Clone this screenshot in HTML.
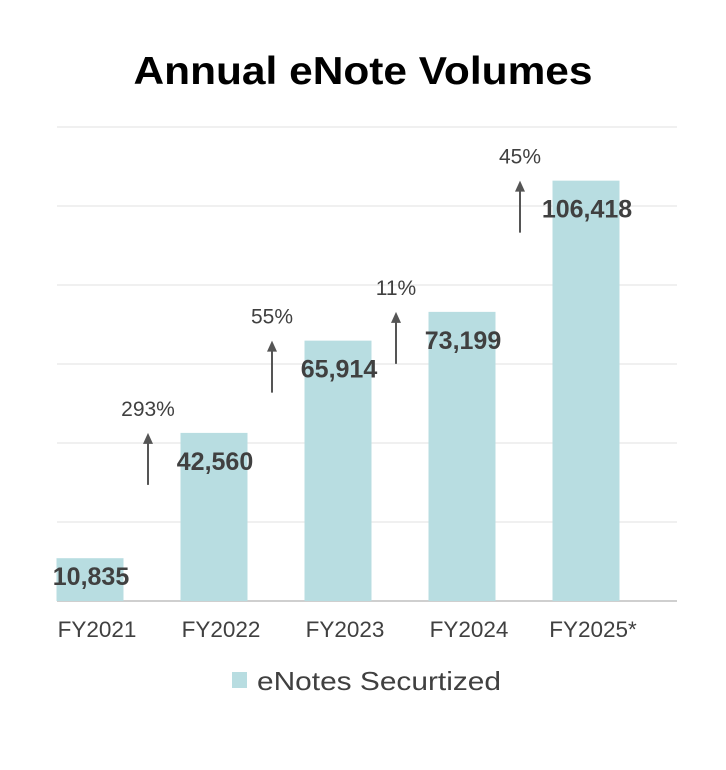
<!DOCTYPE html>
<html><head><meta charset="utf-8"><style>
body{margin:0;background:#fff;}
svg text{font-family:"Liberation Sans",Arial,sans-serif;}
</style></head><body>
<svg id="chart" width="726" height="765" viewBox="0 0 726 765" xmlns="http://www.w3.org/2000/svg">
<text x="363" y="84" text-anchor="middle" font-size="39" font-weight="bold" fill="#000" textLength="459" lengthAdjust="spacingAndGlyphs">Annual eNote Volumes</text>
<g id="grid"></g><g id="bars"></g><g id="labels"></g><g id="arrows"></g><g id="xaxis"></g>
<rect x="232" y="672" width="15" height="16" fill="#b8dde1"/>
<text x="257" y="690" font-size="26" fill="#404040" textLength="244" lengthAdjust="spacingAndGlyphs">eNotes Securtized</text>
</svg>
<script>
const categories = ["FY2021","FY2022","FY2023","FY2024","FY2025*"];
const values = [10835, 42560, 65914, 73199, 106418];
const valueLabels = ["10,835","42,560","65,914","73,199","106,418"];
const growthLabels = ["293%","55%","11%","45%"];
const gridTicks = [0,20000,40000,60000,80000,100000,120000];
const NS="http://www.w3.org/2000/svg";
const y0=601, pxPer=79/20000;
const yScale=v=>y0-v*pxPer;
const xCenter=i=>90+i*124;
const bw=67;
function mk(tag,attrs,parent,txt){const e=document.createElementNS(NS,tag);for(const k in attrs)e.setAttribute(k,attrs[k]);if(txt!==undefined)e.textContent=txt;document.getElementById(parent).appendChild(e);return e;}
gridTicks.forEach((t,i)=>{
  const l=mk('line',{x1:57,x2:677,y1:yScale(t),y2:yScale(t),stroke:i===0?'#cfcfcf':'#ececec','stroke-width':i===0?2:1.5},'grid');
  
  
});
values.forEach((v,i)=>{
  const top=yScale(v);
  const r=mk('rect',{x:xCenter(i)-bw/2,y:top,width:bw,height:y0-top,fill:'#b8dde1'},'bars');
  
  
  const ty=Math.min(top+37,585);
  const t=mk('text',{x:xCenter(i)+1,y:ty,'text-anchor':'middle','font-size':25,'font-weight':'bold',fill:'#404040'},'labels',valueLabels[i]);
  
  
  const c=mk('text',{x:xCenter(i)+7,y:637,'text-anchor':'middle','font-size':22.5,fill:'#404040'},'xaxis',categories[i]);
  
  
});
growthLabels.forEach((g,i)=>{
  const x=(xCenter(i)+xCenter(i+1))/2-4;
  const top=yScale(values[i+1]);
  const ln=mk('line',{x1:x,x2:x,y1:top+4,y2:top+52,stroke:'#555','stroke-width':2},'arrows');
  
  
  const hd=mk('polygon',{points:`${x-5},${top+11} ${x},${top} ${x+5},${top+11}`,fill:'#555'},'arrows');
  
  
  const t=mk('text',{x:x,y:top-17,'text-anchor':'middle','font-size':21,fill:'#404040'},'arrows',g);
  
  
});
</script>
</body></html>
